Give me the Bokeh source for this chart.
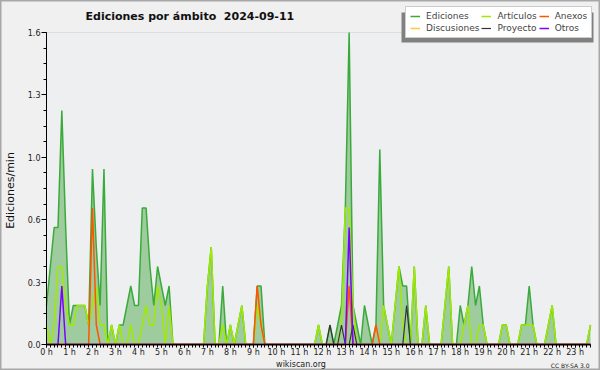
import numpy as np
from bokeh.plotting import figure
from bokeh.models import (Range1d, FixedTicker, Label, Legend, LegendItem,
                          PrintfTickFormatter, BoxAnnotation)
from bokeh.embed import file_html
from bokeh.resources import INLINE

# 10-minute slots of the day (00:00 ... 23:40)
hours = list(range(24))
hour_labels = [f"{h} h" for h in hours]
all_slots = [f"{h:02d}:{m:02d}" for h in hours for m in (0, 10, 20, 30, 40, 50)]

# Edits per minute in each 10-minute slot
ediciones = [
    0.2, 0.4, 0.6, 0.6, 1.2, 0.6, 0.1, 0.2, 0.2, 0.2, 0.2,
    0.1, 0.9, 0.5, 0.2, 0.9, 0.0, 0.1, 0.0, 0.1, 0.1, 0.2, 0.3,
    0.2, 0.2, 0.7, 0.7, 0.4, 0.2, 0.4, 0.3, 0.2, 0.3, 0.0, 0.0,
    0.0, 0.0, 0.0, 0.0, 0.0, 0.0, 0.0, 0.3, 0.5, 0.0, 0.0, 0.3,
    0.0, 0.1, 0.0, 0.1, 0.2, 0.0, 0.0, 0.0, 0.3, 0.3, 0.0, 0.0,
    0.0, 0.0, 0.0, 0.0, 0.0, 0.0, 0.0, 0.0, 0.0, 0.0, 0.0, 0.0,
    0.1, 0.0, 0.0, 0.1, 0.0, 0.1, 0.2, 0.7, 1.6, 0.2, 0.1, 0.0,
    0.2, 0.1, 0.0, 0.1, 1.0, 0.2, 0.1, 0.0, 0.2, 0.4, 0.3, 0.3,
    0.0, 0.4, 0.0, 0.0, 0.2, 0.0, 0.0, 0.0, 0.0, 0.2, 0.4, 0.0,
    0.0, 0.2, 0.1, 0.2, 0.4, 0.2, 0.3, 0.1, 0.0, 0.0, 0.0, 0.0,
    0.1, 0.1, 0.0, 0.0, 0.0, 0.1, 0.1, 0.3, 0.1, 0.0, 0.0, 0.0,
    0.1, 0.2, 0.0, 0.0, 0.0, 0.0, 0.0, 0.0, 0.0, 0.0, 0.0, 0.1,
]
articulos = [
    0.1, 0.0, 0.1, 0.4, 0.4, 0.2, 0.1, 0.1, 0.2, 0.2, 0.2,
    0.1, 0.2, 0.3, 0.1, 0.1, 0.0, 0.1, 0.0, 0.1, 0.0, 0.0, 0.1,
    0.0, 0.0, 0.1, 0.2, 0.1, 0.1, 0.3, 0.2, 0.0, 0.2, 0.0, 0.0,
    0.0, 0.0, 0.0, 0.0, 0.0, 0.0, 0.0, 0.3, 0.5, 0.0, 0.0, 0.1,
    0.0, 0.1, 0.0, 0.1, 0.2, 0.0, 0.0, 0.0, 0.2, 0.1, 0.0, 0.0,
    0.0, 0.0, 0.0, 0.0, 0.0, 0.0, 0.0, 0.0, 0.0, 0.0, 0.0, 0.0,
    0.1, 0.0, 0.0, 0.0, 0.0, 0.0, 0.1, 0.7, 0.7, 0.2, 0.0, 0.0,
    0.0, 0.0, 0.0, 0.0, 0.0, 0.2, 0.1, 0.0, 0.2, 0.4, 0.1, 0.0,
    0.0, 0.4, 0.0, 0.0, 0.2, 0.0, 0.0, 0.0, 0.0, 0.2, 0.4, 0.0,
    0.0, 0.0, 0.1, 0.2, 0.0, 0.0, 0.1, 0.1, 0.0, 0.0, 0.0, 0.0,
    0.1, 0.1, 0.0, 0.0, 0.0, 0.1, 0.1, 0.1, 0.1, 0.0, 0.0, 0.0,
    0.1, 0.2, 0.0, 0.0, 0.0, 0.0, 0.0, 0.0, 0.0, 0.0, 0.0, 0.1,
]
anexos = [
    0.0, 0.0, 0.0, 0.0, 0.0, 0.0, 0.0, 0.0, 0.0, 0.0, 0.0,
    0.0, 0.7, 0.1, 0.0, 0.0, 0.0, 0.0, 0.0, 0.0, 0.0, 0.0, 0.0,
    0.0, 0.0, 0.0, 0.0, 0.0, 0.0, 0.0, 0.0, 0.0, 0.0, 0.0, 0.0,
    0.0, 0.0, 0.0, 0.0, 0.0, 0.0, 0.0, 0.0, 0.0, 0.0, 0.0, 0.0,
    0.0, 0.0, 0.0, 0.0, 0.0, 0.0, 0.0, 0.0, 0.3, 0.1, 0.0, 0.0,
    0.0, 0.0, 0.0, 0.0, 0.0, 0.0, 0.0, 0.0, 0.0, 0.0, 0.0, 0.0,
    0.0, 0.0, 0.0, 0.0, 0.0, 0.0, 0.0, 0.0, 0.3, 0.0, 0.0, 0.0,
    0.0, 0.0, 0.0, 0.1, 0.0, 0.0, 0.0, 0.0, 0.0, 0.0, 0.0, 0.0,
    0.0, 0.0, 0.0, 0.0, 0.0, 0.0, 0.0, 0.0, 0.0, 0.0, 0.0, 0.0,
    0.0, 0.0, 0.0, 0.0, 0.0, 0.0, 0.0, 0.0, 0.0, 0.0, 0.0, 0.0,
    0.0, 0.0, 0.0, 0.0, 0.0, 0.0, 0.0, 0.0, 0.0, 0.0, 0.0, 0.0,
    0.0, 0.0, 0.0, 0.0, 0.0, 0.0, 0.0, 0.0, 0.0, 0.0, 0.0, 0.0,
]
discusiones = [0.0] * len(ediciones)
proyecto = [
    0.0, 0.0, 0.0, 0.0, 0.0, 0.0, 0.0, 0.0, 0.0, 0.0, 0.0,
    0.0, 0.0, 0.0, 0.0, 0.0, 0.0, 0.0, 0.0, 0.0, 0.0, 0.0, 0.0,
    0.0, 0.0, 0.0, 0.0, 0.0, 0.0, 0.0, 0.0, 0.0, 0.0, 0.0, 0.0,
    0.0, 0.0, 0.0, 0.0, 0.0, 0.0, 0.0, 0.0, 0.0, 0.0, 0.0, 0.0,
    0.0, 0.0, 0.0, 0.0, 0.0, 0.0, 0.0, 0.0, 0.0, 0.0, 0.0, 0.0,
    0.0, 0.0, 0.0, 0.0, 0.0, 0.0, 0.0, 0.0, 0.0, 0.0, 0.0, 0.0,
    0.0, 0.0, 0.0, 0.1, 0.0, 0.0, 0.1, 0.0, 0.0, 0.1, 0.0, 0.0,
    0.0, 0.0, 0.0, 0.0, 0.0, 0.0, 0.0, 0.0, 0.0, 0.0, 0.0, 0.2,
    0.0, 0.0, 0.0, 0.0, 0.0, 0.0, 0.0, 0.0, 0.0, 0.0, 0.0, 0.0,
    0.0, 0.0, 0.0, 0.0, 0.0, 0.0, 0.0, 0.0, 0.0, 0.0, 0.0, 0.0,
    0.0, 0.0, 0.0, 0.0, 0.0, 0.0, 0.0, 0.0, 0.0, 0.0, 0.0, 0.0,
    0.0, 0.0, 0.0, 0.0, 0.0, 0.0, 0.0, 0.0, 0.0, 0.0, 0.0, 0.0,
]
otros = [
    0.0, 0.0, 0.0, 0.0, 0.3, 0.0, 0.0, 0.0, 0.0, 0.0, 0.0,
    0.0, 0.0, 0.0, 0.0, 0.0, 0.0, 0.0, 0.0, 0.0, 0.0, 0.0, 0.0,
    0.0, 0.0, 0.0, 0.0, 0.0, 0.0, 0.0, 0.0, 0.0, 0.0, 0.0, 0.0,
    0.0, 0.0, 0.0, 0.0, 0.0, 0.0, 0.0, 0.0, 0.0, 0.0, 0.0, 0.0,
    0.0, 0.0, 0.0, 0.0, 0.0, 0.0, 0.0, 0.0, 0.0, 0.0, 0.0, 0.0,
    0.0, 0.0, 0.0, 0.0, 0.0, 0.0, 0.0, 0.0, 0.0, 0.0, 0.0, 0.0,
    0.0, 0.0, 0.0, 0.0, 0.0, 0.0, 0.0, 0.0, 0.6, 0.0, 0.0, 0.0,
    0.0, 0.0, 0.0, 0.0, 0.0, 0.0, 0.0, 0.0, 0.0, 0.0, 0.0, 0.0,
    0.0, 0.0, 0.0, 0.0, 0.0, 0.0, 0.0, 0.0, 0.0, 0.0, 0.0, 0.0,
    0.0, 0.0, 0.0, 0.0, 0.0, 0.0, 0.0, 0.0, 0.0, 0.0, 0.0, 0.0,
    0.0, 0.0, 0.0, 0.0, 0.0, 0.0, 0.0, 0.0, 0.0, 0.0, 0.0, 0.0,
    0.0, 0.0, 0.0, 0.0, 0.0, 0.0, 0.0, 0.0, 0.0, 0.0, 0.0, 0.0,
]

y_ticks = [0.0, 0.32, 0.64, 0.96, 1.28, 1.6]

slots = all_slots[:len(ediciones)]
n = len(slots)
x = np.arange(n)

# ---- page geometry (pixels) ----
W, H = 600, 370
PX_LEFT, PX_RIGHT = 46, 590      # first / last slot
PX_BOTTOM, PX_TOP = 344, 32      # value 0 / top tick
sx = (PX_RIGHT - PX_LEFT) / (n - 1)
sy = (PX_BOTTOM - PX_TOP) / y_ticks[-1]
x_range = Range1d(-PX_LEFT / sx, (n - 1) + (W - PX_RIGHT) / sx)
y_range = Range1d(-(H - PX_BOTTOM) / sy, y_ticks[-1] + PX_TOP / sy)

FONT = "DejaVu Sans"

p = figure(width=W, height=H, output_backend="svg", toolbar_location=None,
           x_range=x_range, y_range=y_range, min_border=0)
p.background_fill_color = "#f0f0f0"
p.border_fill_color = "#f0f0f0"
p.outline_line_color = "#a8a8a8"
p.outline_line_width = 2
p.grid.visible = False

# plot area
p.add_layout(BoxAnnotation(left=0, right=n - 1, bottom=0, top=y_ticks[-1],
                           fill_color="#eeeff1", fill_alpha=1, line_color=None,
                           level="underlay"))
p.segment(x0=0, x1=n - 1, y0=y_ticks[1:], y1=y_ticks[1:], line_color="#cccccc",
          line_width=1, level="underlay")

p.varea(x=x, y1=0, y2=ediciones, fill_color="#9fcc9f")
r_ed = p.line(x, ediciones, line_color="#3aaa3a", line_width=1.5)
r_ar = p.line(x, articulos, line_color="#a0ea00", line_width=1.5)
r_di = p.line(x, discusiones, line_color="#ffcc33", line_width=1.5)
r_an = p.line(x, anexos, line_color="#ff5500", line_width=1.5)
r_pr = p.line(x, proyecto, line_color="#333333", line_width=1.2)
r_ot = p.line(x, otros, line_color="#7a00ff", line_width=1.5)

# axes drawn at the data origin
p.xaxis.fixed_location = 0
p.yaxis.fixed_location = 0
p.xaxis.bounds = (0, n - 1)
p.yaxis.bounds = (0, y_ticks[-1])
p.xaxis.ticker = FixedTicker(ticks=list(range(0, n, 6)), minor_ticks=list(range(n)))
p.xaxis.major_label_overrides = {i * 6: lab for i, lab in enumerate(hour_labels)}
p.yaxis.ticker = FixedTicker(ticks=y_ticks,
                             minor_ticks=[k * y_ticks[1] / 4 for k in range(21)])
p.yaxis.formatter = PrintfTickFormatter(format="%.1f")
for ax in (p.xaxis, p.yaxis):
    ax.axis_line_color = "black"
    ax.major_tick_line_color = "black"
    ax.minor_tick_line_color = "black"
    ax.major_tick_in = 0
    ax.minor_tick_in = 0
    ax.major_label_text_font = FONT
    ax.major_label_text_font_size = "8px"
    ax.major_label_text_color = "#222222"
p.xaxis.axis_line_width = 1.5
p.yaxis.axis_line_width = 1
p.xaxis.major_tick_out = 3
p.xaxis.minor_tick_out = 3
p.xaxis.major_label_standoff = 0
p.yaxis.major_tick_out = 5
p.yaxis.minor_tick_out = 3
p.yaxis.major_label_standoff = 1

# texts
p.add_layout(Label(x=85, y=H - 16, x_units="screen", y_units="screen",
                   text="Ediciones por ámbito \u00a02024-09-11", text_font=FONT,
                   text_font_style="bold", text_font_size="11px",
                   text_baseline="middle", text_color="#111111"))
p.add_layout(Label(x=10, y=H - 190, x_units="screen", y_units="screen",
                   text="Ediciones/min", angle=np.pi / 2, text_font=FONT,
                   text_font_size="11px", text_align="center",
                   text_baseline="middle", text_color="#111111"))
p.add_layout(Label(x=300.5, y=H - 364, x_units="screen", y_units="screen",
                   text="wikiscan.org", text_font=FONT, text_font_size="8px",
                   text_align="center", text_baseline="alphabetic",
                   text_color="#222222"))
p.add_layout(Label(x=589, y=H - 365, x_units="screen", y_units="screen",
                   text="CC BY-SA 3.0", text_font=FONT, text_font_size="6px",
                   text_align="right", text_baseline="alphabetic",
                   text_color="#222222"))

# legend with shadow
p.add_layout(BoxAnnotation(left=401, right=593, bottom=H - 42, top=H - 12,
                           left_units="screen", right_units="screen",
                           bottom_units="screen", top_units="screen",
                           fill_color="#808080", fill_alpha=1, line_color=None))
legend = Legend(items=[
    LegendItem(label="Ediciones", renderers=[r_ed]),
    LegendItem(label="Discusiones", renderers=[r_di]),
    LegendItem(label="Artículos", renderers=[r_ar]),
    LegendItem(label="Proyecto", renderers=[r_pr]),
    LegendItem(label="Anexos", renderers=[r_an]),
    LegendItem(label="Otros", renderers=[r_ot]),
], location=(405, H - 38), orientation="vertical", ncols=3)
legend.label_text_font = FONT
legend.label_text_font_size = "9px"
legend.label_height = 8
legend.glyph_height = 8
legend.glyph_width = 10
legend.label_standoff = 6
legend.spacing = 2
legend.padding = 4
legend.margin = 0
legend.background_fill_color = "white"
legend.background_fill_alpha = 1
legend.border_line_color = "#999999"
legend.border_line_width = 1
p.add_layout(legend, "center")

open("out.html", "w").write(file_html(p, INLINE))
